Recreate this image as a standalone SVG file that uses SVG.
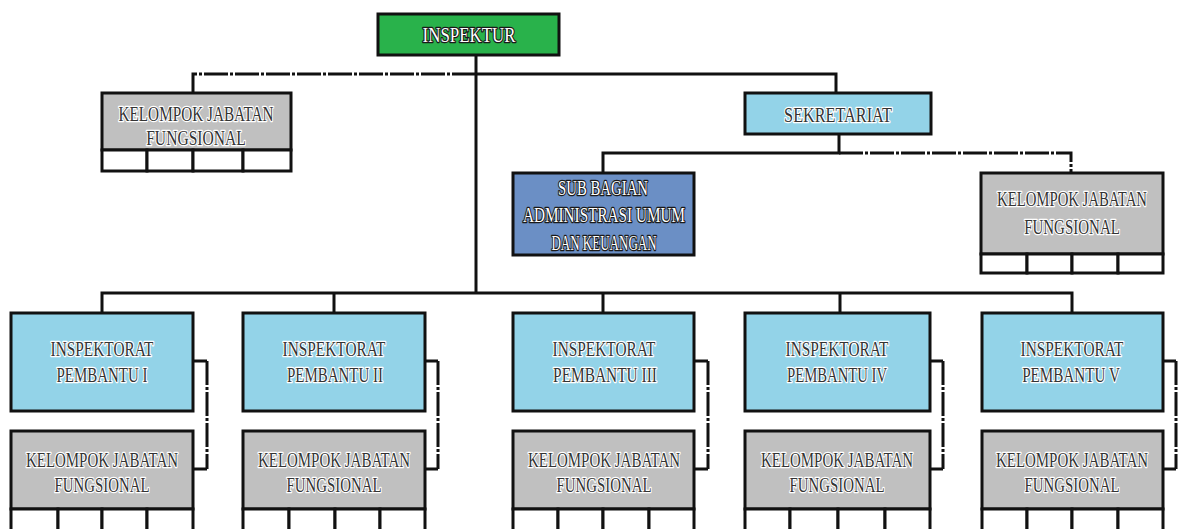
<svg xmlns="http://www.w3.org/2000/svg" width="1181" height="529" viewBox="0 0 1181 529">
<style>
.box{stroke:#111;stroke-width:3}
.green{fill:#29b24b}
.lb{fill:#93d3e8}
.gray{fill:#c0c0c0}
.steel{fill:#6b8fc5}
.cell{fill:#fff;stroke:#111;stroke-width:3}
.ln{fill:none;stroke:#111;stroke-width:3}
.dd{fill:none;stroke:#111;stroke-width:3;stroke-dasharray:24 2 3 2}
text{font-family:"Liberation Serif","DejaVu Serif",serif;font-size:20px;text-anchor:middle}
.dk{fill:#333;stroke:#fff;stroke-width:2.5;paint-order:stroke;stroke-linejoin:round}
.wh{fill:#fff;stroke:#1a1a1a;stroke-width:2.5;paint-order:stroke;stroke-linejoin:round}
</style>
<rect width="1181" height="529" fill="#fff"/>
<g id="connectors">
<path class="ln" d="M476 55V293"/>
<path class="dd" d="M476 74H193V93"/>
<path class="ln" d="M476 74H836V93"/>
<path class="ln" d="M839 134V153H603V173"/>
<path class="dd" d="M839 153H1071V173"/>
<path class="ln" d="M102 313V293H1072V313M334 293V313M603 293V313M840 293V313"/>
<path class="ln" d="M193 361H207M193 469H207"/><path class="dd" d="M207 361V469"/>
<path class="ln" d="M425 361H438M425 469H438"/><path class="dd" d="M438 361V469"/>
<path class="ln" d="M694 361H708M694 469H708"/><path class="dd" d="M708 361V469"/>
<path class="ln" d="M930 361H943M930 469H943"/><path class="dd" d="M943 361V469"/>
<path class="ln" d="M1163 361H1176M1163 469H1176"/><path class="dd" d="M1176 361V469"/>
</g>
<g id="inspektur">
<rect class="box green" x="378" y="14" width="181" height="41"/>
<text class="wh" transform="translate(469,42) scale(0.845,1)">INSPEKTUR</text>
</g>
<g id="kjf-top">
<rect class="box gray" x="102" y="93" width="189" height="57"/>
<rect class="cell" x="102" y="150" width="45" height="21"/><rect class="cell" x="147" y="150" width="46" height="21"/><rect class="cell" x="193" y="150" width="50" height="21"/><rect class="cell" x="243" y="150" width="48" height="21"/>
<text class="dk" transform="translate(196,121) scale(0.763,1)">KELOMPOK JABATAN</text>
<text class="dk" transform="translate(196,145) scale(0.78,1)">FUNGSIONAL</text>
</g>
<g id="sekretariat">
<rect class="box lb" x="745" y="93" width="186" height="41"/>
<text class="dk" transform="translate(838,122) scale(0.812,1)">SEKRETARIAT</text>
</g>
<g id="subbagian">
<rect class="box steel" x="513" y="173" width="181" height="82"/>
<text class="wh" transform="translate(603,195) scale(0.74,1)">SUB BAGIAN</text>
<text class="wh" transform="translate(604,222) scale(0.761,1)">ADMINISTRASI UMUM</text>
<text class="wh" transform="translate(604,250) scale(0.651,1)">DAN KEUANGAN</text>
</g>
<g id="kjf-sek">
<rect class="box gray" x="981" y="173" width="182" height="81"/>
<rect class="cell" x="981" y="254" width="46" height="19"/><rect class="cell" x="1027" y="254" width="45" height="19"/><rect class="cell" x="1072" y="254" width="46" height="19"/><rect class="cell" x="1118" y="254" width="45" height="19"/>
<text class="dk" transform="translate(1072,206) scale(0.738,1)">KELOMPOK JABATAN</text>
<text class="dk" transform="translate(1072,234) scale(0.75,1)">FUNGSIONAL</text>
</g>
<g id="irban1">
<rect class="box lb" x="11" y="313" width="182" height="98"/>
<text class="dk" transform="translate(102,356) scale(0.768,1)">INSPEKTORAT</text>
<text class="dk" transform="translate(102,382) scale(0.748,1)">PEMBANTU I</text>
</g>
<g id="kjf1">
<rect class="box gray" x="11" y="431" width="182" height="78"/>
<rect class="cell" x="11" y="509" width="47" height="22"/><rect class="cell" x="58" y="509" width="44" height="22"/><rect class="cell" x="102" y="509" width="45" height="22"/><rect class="cell" x="147" y="509" width="46" height="22"/>
<text class="dk" transform="translate(102,467) scale(0.748,1)">KELOMPOK JABATAN</text>
<text class="dk" transform="translate(102,492) scale(0.743,1)">FUNGSIONAL</text>
</g>
<g id="irban2">
<rect class="box lb" x="243" y="313" width="182" height="98"/>
<text class="dk" transform="translate(334,356) scale(0.768,1)">INSPEKTORAT</text>
<text class="dk" transform="translate(335,382) scale(0.748,1)">PEMBANTU II</text>
</g>
<g id="kjf2">
<rect class="box gray" x="243" y="431" width="182" height="78"/>
<rect class="cell" x="243" y="509" width="46" height="22"/><rect class="cell" x="289" y="509" width="46" height="22"/><rect class="cell" x="335" y="509" width="45" height="22"/><rect class="cell" x="380" y="509" width="45" height="22"/>
<text class="dk" transform="translate(334,467) scale(0.748,1)">KELOMPOK JABATAN</text>
<text class="dk" transform="translate(334,492) scale(0.743,1)">FUNGSIONAL</text>
</g>
<g id="irban3">
<rect class="box lb" x="513" y="313" width="181" height="98"/>
<text class="dk" transform="translate(604,356) scale(0.768,1)">INSPEKTORAT</text>
<text class="dk" transform="translate(605,382) scale(0.77,1)">PEMBANTU III</text>
</g>
<g id="kjf3">
<rect class="box gray" x="513" y="431" width="181" height="78"/>
<rect class="cell" x="513" y="509" width="45" height="22"/><rect class="cell" x="558" y="509" width="45" height="22"/><rect class="cell" x="603" y="509" width="46" height="22"/><rect class="cell" x="649" y="509" width="45" height="22"/>
<text class="dk" transform="translate(604,467) scale(0.748,1)">KELOMPOK JABATAN</text>
<text class="dk" transform="translate(604,492) scale(0.743,1)">FUNGSIONAL</text>
</g>
<g id="irban4">
<rect class="box lb" x="745" y="313" width="185" height="98"/>
<text class="dk" transform="translate(837,356) scale(0.768,1)">INSPEKTORAT</text>
<text class="dk" transform="translate(837,382) scale(0.735,1)">PEMBANTU IV</text>
</g>
<g id="kjf4">
<rect class="box gray" x="745" y="431" width="185" height="78"/>
<rect class="cell" x="745" y="509" width="45" height="22"/><rect class="cell" x="790" y="509" width="48" height="22"/><rect class="cell" x="838" y="509" width="47" height="22"/><rect class="cell" x="885" y="509" width="45" height="22"/>
<text class="dk" transform="translate(837,467) scale(0.748,1)">KELOMPOK JABATAN</text>
<text class="dk" transform="translate(837,492) scale(0.743,1)">FUNGSIONAL</text>
</g>
<g id="irban5">
<rect class="box lb" x="982" y="313" width="181" height="98"/>
<text class="dk" transform="translate(1072,356) scale(0.768,1)">INSPEKTORAT</text>
<text class="dk" transform="translate(1071,382) scale(0.757,1)">PEMBANTU V</text>
</g>
<g id="kjf5">
<rect class="box gray" x="982" y="431" width="181" height="78"/>
<rect class="cell" x="982" y="509" width="45" height="22"/><rect class="cell" x="1027" y="509" width="45" height="22"/><rect class="cell" x="1072" y="509" width="46" height="22"/><rect class="cell" x="1118" y="509" width="45" height="22"/>
<text class="dk" transform="translate(1072,467) scale(0.748,1)">KELOMPOK JABATAN</text>
<text class="dk" transform="translate(1072,492) scale(0.743,1)">FUNGSIONAL</text>
</g>
</svg>
